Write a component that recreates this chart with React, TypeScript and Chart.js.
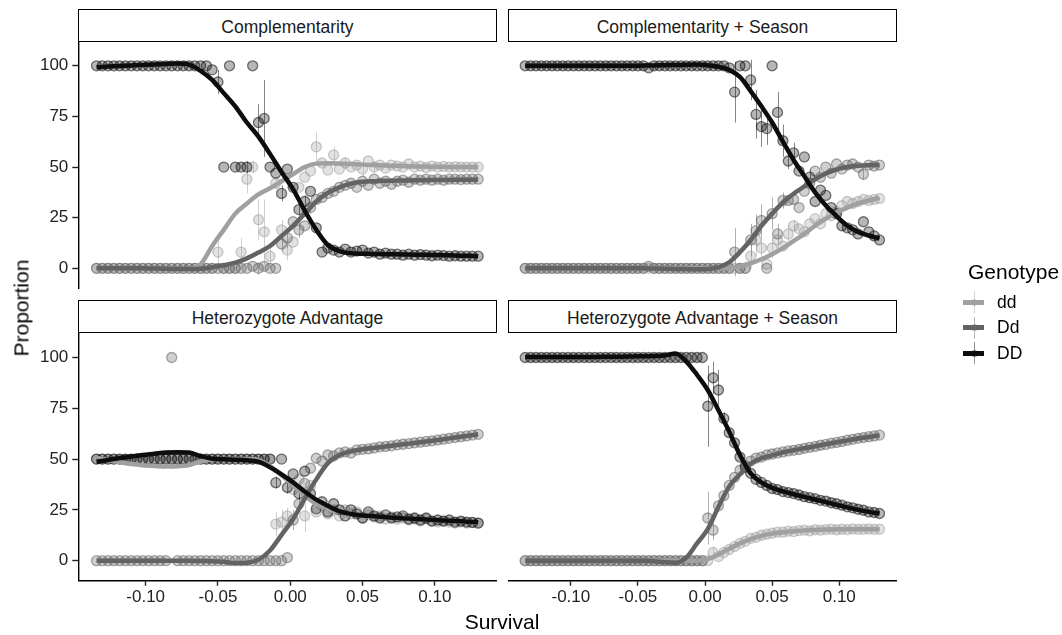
import React, { useEffect, useRef } from "react";
import { Chart, registerables } from "chart.js";

Chart.register(...registerables);

// ---- shared axes -----------------------------------------------------------
const survival = [
  -0.134, -0.13, -0.126, -0.122, -0.118, -0.114, -0.11, -0.106, -0.102, -0.098,
  -0.094, -0.09, -0.086, -0.082, -0.078, -0.074, -0.07, -0.066, -0.062, -0.058,
  -0.054, -0.05, -0.046, -0.042, -0.038, -0.034, -0.03, -0.026, -0.022, -0.018,
  -0.014, -0.01, -0.006, -0.002, 0.002, 0.006, 0.01, 0.014, 0.018, 0.022,
  0.026, 0.03, 0.034, 0.038, 0.042, 0.046, 0.05, 0.054, 0.058, 0.062,
  0.066, 0.07, 0.074, 0.078, 0.082, 0.086, 0.09, 0.094, 0.098, 0.102,
  0.106, 0.11, 0.114, 0.118, 0.122, 0.126, 0.13,
];

const survivalFit = [
  -0.134, -0.126, -0.118, -0.11, -0.102, -0.094, -0.086, -0.078, -0.07, -0.062,
  -0.054, -0.046, -0.038, -0.03, -0.022, -0.014, -0.006, 0.002, 0.01, 0.018,
  0.026, 0.034, 0.042, 0.05, 0.058, 0.066, 0.074, 0.082, 0.09, 0.098,
  0.106, 0.114, 0.122, 0.13,
];

const yTicks = [0, 25, 50, 75, 100];
const xTicks = [-0.1, -0.05, 0, 0.05, 0.1];
const genotypes = ["dd", "Dd", "DD"];
const facetTitles = [
  "Complementarity",
  "Complementarity + Season",
  "Heterozygote Advantage",
  "Heterozygote Advantage + Season",
];

// ---- Complementarity --------------------------------------------------------
const compDD = [
  100, 100, 100, 100, 100, 100, 100, 100, 100, 100,
  100, 100, 100, 100, 100, 100, 100, 100, 100, 100,
  98, 92, 50, 100, 50, 50, 50, 100, 72, 74,
  50, 47, 37, 49, 40, 29, 33, 38, 20, 8,
  10, 9, 8, 9.5, 8, 8.5, 9, 7.5, 8, 7,
  7.5, 7, 7, 6.5, 7, 6.5, 6.8, 6.5, 6.2, 6.5,
  6.3, 6, 6.2, 6, 6, 6, 6,
];
const compDDSe: Record<number, number> = { 21: 6, 26: 3, 28: 9, 29: 19, 32: 4, 35: 3, 36: 3 };
const compDd = [
  0, 0, 0, 0, 0, 0, 0, 0, 0, 0,
  0, 0, 0, 0, 0, 0, 0, 0, 0, 0,
  0, 0, 0, 0, 0, 0, 0, 1, 0, 1,
  0, 0, 12, 15, 23, 19, 21, 30, 34, 35,
  37, 38, 40, 41, 42, 40, 43, 41, 44, 42,
  43, 41.5, 43, 43.5, 42.5, 44, 43.5, 44, 43.5, 44,
  43.5, 44, 44, 43.8, 44, 44, 44,
];
const compDdSe: Record<number, number> = { 28: 3, 32: 4, 33: 5, 35: 4, 37: 3 };
const compdd = [
  0, 0, 0, 0, 0, 0, 0, 0, 0, 0,
  0, 0, 0, 0, 0, 0, 0, 0, 0, 0,
  0, 8, 0, 0, 0, 8, 44, 50, 24, 18,
  6, 42, 19, 9, 13, 40, 45, 48, 60, 52,
  48.5, 56, 49, 52, 50, 51, 49, 53, 50, 51,
  49.5, 51, 50.5, 50, 51.5, 50, 50.5, 49.8, 50.5, 50,
  50.3, 50, 50.2, 50, 50, 50, 50,
];
const compddSe: Record<number, number> = {
  21: 6, 25: 7, 26: 7, 27: 3, 28: 10, 29: 16, 30: 6, 31: 3, 32: 5, 33: 5, 38: 7, 41: 4, 43: 3, 46: 4, 48: 3,
};
const compFitDD = [
  99.3, 99.6, 99.9, 100.2, 100.4, 100.6, 100.9, 101.1, 100.6, 97.5,
  93, 86.5, 80, 72, 65, 56.5, 47.5, 39, 28.5, 19,
  11.5, 8.5, 7.4, 7.2, 7.1, 7.0, 6.9, 6.8, 6.7, 6.6,
  6.5, 6.3, 6.2, 6.0,
];
const compFitDd = [
  0, 0, 0, 0, 0, -0.1, -0.2, -0.4, -0.4, -0.2,
  0.5, 1.5, 2.8, 4.9, 7.8, 11, 16, 21, 27, 33,
  37.3, 40, 41.8, 42.7, 43, 43.2, 43.3, 43.4, 43.5, 43.6,
  43.6, 43.7, 43.7, 43.8,
];
const compFitdd = [
  0, 0, 0, 0, 0, -0.2, -0.4, -0.5, -0.3, 2,
  11, 19, 27, 32, 36.5, 39.5, 43, 46.5, 50, 51.7,
  51.9, 51.7, 51.5, 51.2, 51, 50.8, 50.6, 50.4, 50.3, 50.2,
  50.1, 50, 50, 50,
];

// ---- Complementarity + Season ----------------------------------------------
const seasonDD = [
  100, 100, 100, 100, 100, 100, 100, 100, 100, 100,
  100, 100, 100, 100, 100, 100, 100, 100, 100, 100,
  100, 100, 100, 99, 100, 100, 100, 100, 100, 100,
  100, 100, 100, 100, 100, 100, 100, 100, 99, 87,
  100, 100, 93, 76, 70, 69, 100, 77, 63, 53,
  57, 48, 55, 45, 33, 38.6, 36, 30, 27, 21,
  20, 19, 17, 23, 18, 16, 14,
];
const seasonDDSe: Record<number, number> = { 39: 15, 42: 10, 43: 12, 44: 10, 45: 8, 47: 10, 48: 8, 49: 4, 50: 5, 53: 4 };
const seasonDd = [
  0, 0, 0, 0, 0, 0, 0, 0, 0, 0,
  0, 0, 0, 0, 0, 0, 0, 0, 0, 0,
  0, 0, 0, 1, 0, 0, 0, 0, 0, 0,
  0, 0, 0, 0, 0, 0, 0, 0, 0, 8,
  0, 0, 14, 18.6, 23.6, 0, 27, 17, 33.5, 33.5,
  34, 30, 38, 42, 48, 45, 50, 47, 51.5, 49,
  51, 51.5, 50, 46.5, 51, 50.5, 51,
];
const seasonDdSe: Record<number, number> = { 39: 12, 42: 8, 43: 8, 44: 8, 46: 8, 47: 5, 48: 4, 63: 3 };
const seasondd = [
  0, 0, 0, 0, 0, 0, 0, 0, 0, 0,
  0, 0, 0, 0, 0, 0, 0, 0, 0, 0,
  0, 0, 0, 0, 0, 0, 0, 0, 0, 0,
  0, 0, 0, 0, 0, 0, 0, 0, 0, 0,
  0, 0, 6, 14, 10, 2, 10, 14, 11, 17,
  21, 19.5, 18, 22, 24.5, 22, 27, 26, 28, 31,
  33, 32, 33, 34, 33.5, 34, 34.5,
];
const seasonddSe: Record<number, number> = { 42: 6, 43: 8, 44: 6, 46: 5, 49: 4, 50: 3 };
const seasonFitDD = [
  100, 100, 100, 100, 100, 100, 100, 100, 100, 100,
  100, 100.1, 100.2, 100.3, 100.4, 100.5, 100.6, 100.3, 99.5, 98,
  94.5, 87.5, 80, 72, 62.5, 53.5, 45.5, 37.5, 31, 25.8,
  21, 18, 16.2, 14.7,
];
const seasonFitDd = [
  0, 0, 0, 0, 0, 0, 0, 0, 0, 0,
  0, 0, -0.1, -0.2, -0.3, -0.4, -0.5, -0.3, 0.5, 3,
  8, 14, 21, 27, 32.5, 36.8, 40.5, 44, 46.8, 48.8,
  50, 50.6, 50.9, 51,
];
const seasonFitdd = [
  0, 0, 0, 0, 0, 0, 0, 0, 0, 0,
  0, 0, 0, 0, 0, 0, 0, 0, 0, 0.3,
  1, 2.5, 4.5, 7, 10, 13.5, 17, 21, 24.5, 27.5,
  30, 32, 33.5, 34.8,
];

// ---- Heterozygote Advantage -------------------------------------------------
const hetDD = [
  50, 50, 50, 50, 50, 50, 50, 50, 50, 50,
  50, 50, 50, 50, 50, 50, 50, 50, 50, 50,
  50, 50, 50, 50, 50, 50, 50, 50, 50, 50,
  50, 38.4, 50, 36, 42.7, 33, 44, 33, 25.5, 29,
  24, 28, 25, 22, 25, 23, 21, 24, 22, 21,
  22.5, 21, 21.5, 22, 20.5, 21, 20, 21, 19.5, 20,
  19.5, 20, 19, 19.5, 19, 18.8, 18.5,
];
const hetDDSe: Record<number, number> = { 31: 3, 33: 3, 35: 3 };
const hetDd = [
  0, 0, 0, 0, 0, 0, 0, 0, 0, 0,
  0, 0, 0, 100, 0, 0, 0, 0, 0, 0,
  0, 0, 0, 0, 0, 0, 0, 0, 0, 0,
  0, 0, 0, 1.5, 20, 28, 38, 45.5, 50.4, 49,
  52, 51.5, 53, 53.5, 53, 54.5, 54.8, 55, 55.5, 56,
  56.2, 56.5, 57, 57.3, 57.6, 58, 58.3, 58.7, 59, 59.4,
  59.8, 60.2, 60.6, 61, 61.4, 61.8, 62.2,
];
const hetDdSe: Record<number, number> = { 34: 5, 35: 4 };
const hetdd = [
  50, 50, 50, 50, 50, 50, 50, 50, 50, 50,
  50, 50, 50, 50, 50, 50, 50, 50, 50, 50,
  50, 50, 50, 50, 50, 50, 50, 50, 50, 50,
  50, 18, 19, 22, 35, 40, 22, 37, 24, 27,
  23, 25, 22, 25, 23, 24, 21, 22.5, 21.5, 22,
  20.5, 21.5, 20.5, 21, 20, 20.5, 19.5, 20.5, 19.5, 19,
  19.5, 19, 18.5, 19, 18.5, 18.8, 18.5,
];
const hetddSe: Record<number, number> = { 31: 6, 32: 6, 33: 4, 36: 8, 41: 3, 43: 2 };
const hetFitDD = [
  48.7, 49.5, 50.5, 51.3, 52, 52.6, 53.2, 53.4, 53.2, 51.5,
  50.2, 49.9, 49.7, 49.4, 48.7, 46, 42.5, 38.5, 34, 30,
  27, 24.3, 23, 22.2, 21.8, 21.4, 21, 20.7, 20.4, 20.1,
  19.8, 19.5, 19.2, 18.9,
];
const hetFitDd = [
  0, 0, 0, 0, 0, 0, 0, 0, -0.1, -0.2,
  -0.3, -0.6, -1.2, -1, 0.5, 5, 12.7, 20.5, 30.5, 40,
  48, 52, 53.8, 54.8, 55.5, 56.2, 56.9, 57.6, 58.3, 59,
  59.8, 60.6, 61.4, 62.2,
];
const hetFitdd = [
  50.5, 49.5, 48.5, 47.6, 47, 46.6, 46.3, 46.4, 47, 48.8,
  49.8, 50, 50, 50, 49.5, 46.5, 42, 37, 32, 28,
  25.5, 24, 23, 22.1, 21.6, 21.2, 20.9, 20.6, 20.3, 20,
  19.7, 19.4, 19.1, 18.8,
];

// ---- Heterozygote Advantage + Season ---------------------------------------
const hetSeasonDD = [
  100, 100, 100, 100, 100, 100, 100, 100, 100, 100,
  100, 100, 100, 100, 100, 100, 100, 100, 100, 100,
  100, 100, 100, 100, 100, 100, 100, 100, 100, 100,
  100, 100, 100, 100, 76, 90, 84, 70, 63, 58,
  51, 46, 43, 40, 38.5, 37, 35.5, 35, 34, 33.5,
  33, 32.3, 31.5, 31, 30.5, 29.7, 29.3, 28.5, 28, 27.3,
  26.5, 26, 25.3, 24.8, 24, 23.7, 23.2,
];
const hetSeasonDDSe: Record<number, number> = { 34: 20, 35: 8, 36: 10, 37: 3 };
const hetSeasonDd = [
  0, 0, 0, 0, 0, 0, 0, 0, 0, 0,
  0, 0, 0, 0, 0, 0, 0, 0, 0, 0,
  0, 0, 0, 0, 0, 0, 0, 0, 0, 0,
  0, 0, 0, 0, 21, 15, 27, 32, 37, 41,
  44.5, 47, 49, 50.5, 51, 52, 52.5, 53, 53.5, 54,
  54.3, 54.7, 55.3, 55.8, 56.2, 56.8, 57.2, 57.8, 58.2, 58.7,
  59.3, 59.7, 60.2, 60.6, 61, 61.4, 61.8,
];
const hetSeasonDdSe: Record<number, number> = { 34: 13, 35: 5, 36: 3 };
const hetSeasondd = [
  0, 0, 0, 0, 0, 0, 0, 0, 0, 0,
  0, 0, 0, 0, 0, 0, 0, 0, 0, 0,
  0, 0, 0, 0, 0, 0, 0, 0, 0, 0,
  0, 0, 0, 0, 0, 4, 2, 4, 5.5, 7,
  8.5, 9.5, 11, 11.5, 12.5, 13, 13.5, 14, 14, 14.5,
  14.3, 14.8, 15, 14.7, 15.2, 15, 15.3, 15.5, 15.2, 15.5,
  15.3, 15.6, 15.4, 15.5, 15.6, 15.4, 15.5,
];
const hetSeasonddSe: Record<number, number> = { 35: 3 };
const hetSeasonFitDD = [
  100.2, 100.2, 100.2, 100.2, 100.2, 100.2, 100.2, 100.3, 100.3, 100.4,
  100.5, 100.6, 100.7, 101, 101.9, 98, 91.5, 84, 74, 63.5,
  52, 43, 38.5, 35.8, 34.1, 32.7, 31.4, 30.1, 28.8, 27.5,
  26.2, 25, 24, 23.2,
];
const hetSeasonFitDd = [
  0, 0, 0, 0, 0, 0, 0, 0, 0, 0,
  0, 0, -0.3, -0.8, -1, 1.5, 8.5, 15.5, 26.5, 36.5,
  42.5, 47.8, 50.4, 51.8, 53.3, 54.4, 55.3, 56.3, 57.3, 58.3,
  59.2, 60.1, 60.9, 61.7,
];
const hetSeasonFitdd = [
  0, 0, 0, 0, 0, 0, 0, 0, 0, 0,
  0, 0, 0, 0, 0, 0, 0, 0.8, 3, 5.8,
  8.5, 10.6, 12.2, 13.3, 14, 14.5, 14.9, 15.1, 15.3, 15.4,
  15.5, 15.5, 15.5, 15.5,
];

// ---- styling ---------------------------------------------------------------
const FONT = '"Liberation Sans", Arial, Helvetica, sans-serif';
const W = 1062;
const H = 635;
const X_MIN = -0.1466;
const X_MAX = 0.1428;
const Y_MIN = -9.87;
const Y_MAX = 111.9;
const Y_AXIS_W = 60;
const X_AXIS_H = 40;

const genotypeRgb: Record<string, number[]> = {
  dd: [160, 160, 160],
  Dd: [99, 99, 99],
  DD: [13, 13, 13],
};
const rgba = (g: string, a: number) => {
  const [r, gg, b] = genotypeRgb[g];
  return `rgba(${r},${gg},${b},${a})`;
};

type Series = { points: number[]; se: Record<number, number>; fit: number[] };
type Area = { left: number; top: number; right: number; bottom: number };
type PanelDef = {
  title: string;
  area: Area;
  strip: { top: number; bottom: number };
  showX: boolean;
  showY: boolean;
  series: Record<string, Series>;
};

const panels: PanelDef[] = [
  {
    title: facetTitles[0],
    area: { left: 78.3, top: 41.7, right: 496.7, bottom: 288.3 },
    strip: { top: 8.7, bottom: 41.7 },
    showX: false,
    showY: true,
    series: {
      dd: { points: compdd, se: compddSe, fit: compFitdd },
      Dd: { points: compDd, se: compDdSe, fit: compFitDd },
      DD: { points: compDD, se: compDDSe, fit: compFitDD },
    },
  },
  {
    title: facetTitles[1],
    area: { left: 508.3, top: 41.7, right: 896.7, bottom: 288.3 },
    strip: { top: 8.7, bottom: 41.7 },
    showX: false,
    showY: false,
    series: {
      dd: { points: seasondd, se: seasonddSe, fit: seasonFitdd },
      Dd: { points: seasonDd, se: seasonDdSe, fit: seasonFitDd },
      DD: { points: seasonDD, se: seasonDDSe, fit: seasonFitDD },
    },
  },
  {
    title: facetTitles[2],
    area: { left: 78.3, top: 333.3, right: 496.7, bottom: 580.7 },
    strip: { top: 300.3, bottom: 333.3 },
    showX: true,
    showY: true,
    series: {
      dd: { points: hetdd, se: hetddSe, fit: hetFitdd },
      Dd: { points: hetDd, se: hetDdSe, fit: hetFitDd },
      DD: { points: hetDD, se: hetDDSe, fit: hetFitDD },
    },
  },
  {
    title: facetTitles[3],
    area: { left: 508.3, top: 333.3, right: 896.7, bottom: 580.7 },
    strip: { top: 300.3, bottom: 333.3 },
    showX: true,
    showY: false,
    series: {
      dd: { points: hetSeasondd, se: hetSeasonddSe, fit: hetSeasonFitdd },
      Dd: { points: hetSeasonDd, se: hetSeasonDdSe, fit: hetSeasonFitDd },
      DD: { points: hetSeasonDD, se: hetSeasonDDSe, fit: hetSeasonFitDD },
    },
  },
];

// vertical standard-error bars for the replicate means
const errorBars = {
  id: "errorBars",
  beforeDatasetsDraw(chart: any) {
    const { ctx, chartArea, scales } = chart;
    const xs = scales.x;
    const ys = scales.y;
    ctx.save();
    ctx.beginPath();
    ctx.rect(chartArea.left, chartArea.top, chartArea.right - chartArea.left, chartArea.bottom - chartArea.top);
    ctx.clip();
    chart.data.datasets.forEach((ds: any) => {
      if (!ds.se) return;
      ctx.strokeStyle = ds.seColor;
      ctx.lineWidth = 1;
      ds.data.forEach((p: any, i: number) => {
        const s = ds.se[i];
        if (!s) return;
        const px = Math.round(xs.getPixelForValue(p.x)) + 0.5;
        ctx.beginPath();
        ctx.moveTo(px, ys.getPixelForValue(p.y - s));
        ctx.lineTo(px, ys.getPixelForValue(p.y + s));
        ctx.stroke();
      });
    });
    ctx.restore();
  },
};

function buildDatasets(panel: PanelDef) {
  const datasets: any[] = [];
  genotypes.forEach((g, gi) => {
    const s = panel.series[g];
    datasets.push({
      label: `${g} loess`,
      data: survivalFit.map((x, i) => ({ x, y: s.fit[i] })),
      borderColor: rgba(g, 1),
      borderWidth: 4.5,
      pointRadius: 0,
      pointHoverRadius: 0,
      cubicInterpolationMode: "monotone",
      fill: false,
      order: 2 - gi,
    });
    datasets.push({
      label: g,
      data: survival.map((x, i) => ({ x, y: s.points[i] })),
      showLine: false,
      pointRadius: 5,
      pointHoverRadius: 5,
      pointBackgroundColor: rgba(g, 0.3),
      pointBorderColor: rgba(g, 0.55),
      pointBorderWidth: 1.3,
      borderColor: rgba(g, 0.55),
      order: 5 - gi,
      se: survival.map((_, i) => s.se[i] ?? 0),
      seColor: rgba(g, 0.5),
    });
  });
  return datasets;
}

function FacetPanel({ panel }: { panel: PanelDef }) {
  const ref = useRef<HTMLCanvasElement | null>(null);

  useEffect(() => {
    if (!ref.current) return;
    const a = panel.area;
    const tickFont = { family: FONT, size: 17 };
    const chart = new Chart(ref.current, {
      type: "line",
      data: { datasets: buildDatasets(panel) },
      options: {
        animation: false,
        responsive: false,
        devicePixelRatio: 1,
        events: [],
        layout: {
          padding: {
            left: a.left - (panel.showY ? Y_AXIS_W : 0),
            right: W - a.right,
            top: a.top,
            bottom: H - a.bottom - (panel.showX ? X_AXIS_H : 0),
          },
        },
        plugins: {
          legend: { display: false },
          tooltip: { enabled: false },
        },
        scales: {
          x: {
            type: "linear",
            min: X_MIN,
            max: X_MAX,
            display: panel.showX,
            afterBuildTicks: (s: any) => {
              s.ticks = xTicks.map((v) => ({ value: v }));
            },
            afterFit: (s: any) => {
              s.height = panel.showX ? X_AXIS_H : 0;
            },
            grid: {
              drawOnChartArea: false,
              drawTicks: true,
              tickLength: 5,
              tickColor: "#222",
              tickWidth: 1.4,
            },
            border: { display: true, color: "#000", width: 1.4 },
            ticks: {
              autoSkip: false,
              maxRotation: 0,
              padding: 1,
              color: "#222",
              font: tickFont,
              callback: (v: any) => Number(v).toFixed(2),
            },
          },
          y: {
            type: "linear",
            min: Y_MIN,
            max: Y_MAX,
            display: panel.showY,
            afterBuildTicks: (s: any) => {
              s.ticks = yTicks.map((v) => ({ value: v }));
            },
            afterFit: (s: any) => {
              s.width = panel.showY ? Y_AXIS_W : 0;
            },
            grid: {
              drawOnChartArea: false,
              drawTicks: true,
              tickLength: 6,
              tickColor: "#222",
              tickWidth: 1.4,
            },
            border: { display: true, color: "#000", width: 1.4 },
            ticks: {
              autoSkip: false,
              padding: 4,
              color: "#222",
              font: tickFont,
              callback: (v: any) => String(v),
            },
          },
        },
      } as any,
      plugins: [errorBars],
    });
    return () => chart.destroy();
  }, [panel]);

  return (
    <canvas
      ref={ref}
      width={W}
      height={H}
      style={{ position: "absolute", left: 0, top: 0, width: W, height: H, pointerEvents: "none" }}
    />
  );
}

function Strip({ panel }: { panel: PanelDef }) {
  const { left, right } = panel.area;
  const { top, bottom } = panel.strip;
  const capCenter = (top + bottom) / 2 + 2;
  return (
    <>
      <div
        style={{
          position: "absolute",
          left,
          top,
          width: right - left,
          height: bottom - top,
          border: "1.7px solid #000",
          boxSizing: "border-box",
          background: "#fff",
        }}
      />
      <div
        style={{
          position: "absolute",
          left,
          width: right - left,
          top: capCenter - 0.49 * 17.5,
          textAlign: "center",
          fontFamily: FONT,
          fontSize: 17.5,
          lineHeight: 1,
          color: "#1a1a1a",
          whiteSpace: "nowrap",
        }}
      >
        {panel.title}
      </div>
    </>
  );
}

const legendRows = [302.3, 327.7, 353.3];

export default function App() {
  return (
    <div style={{ position: "absolute", left: 0, top: 0, width: W, height: H, background: "#fff", overflow: "hidden" }}>
      {panels.map((p) => (
        <Strip key={`s-${p.title}`} panel={p} />
      ))}
      {panels.map((p) => (
        <FacetPanel key={p.title} panel={p} />
      ))}
      <div
        style={{
          position: "absolute",
          left: 402,
          width: 200,
          top: 621 - 0.49 * 21,
          textAlign: "center",
          fontFamily: FONT,
          fontSize: 21,
          lineHeight: 1,
          color: "#000",
        }}
      >
        Survival
      </div>
      <div
        style={{
          position: "absolute",
          left: 21,
          top: 308.3,
          transform: "translate(-50%, -50%) rotate(-90deg)",
          fontFamily: FONT,
          fontSize: 21,
          lineHeight: 1,
          color: "#000",
          whiteSpace: "nowrap",
        }}
      >
        Proportion
      </div>
      <div
        style={{
          position: "absolute",
          left: 968,
          top: 271.5 - 0.49 * 21,
          fontFamily: FONT,
          fontSize: 21,
          lineHeight: 1,
          color: "#000",
          whiteSpace: "nowrap",
        }}
      >
        Genotype
      </div>
      {genotypes.map((g, i) => {
        const c = legendRows[i];
        return (
          <React.Fragment key={g}>
            <div style={{ position: "absolute", left: 973.5, top: c - 11, width: 1, height: 22, background: rgba(g, 0.45) }} />
            <div style={{ position: "absolute", left: 963.3, top: c - 2.5, width: 21, height: 5, background: rgba(g, 1) }} />
            <div
              style={{
                position: "absolute",
                left: 970.5,
                top: c - 3.5,
                width: 7,
                height: 7,
                borderRadius: "50%",
                background: rgba(g, 0.42),
              }}
            />
            <div
              style={{
                position: "absolute",
                left: 997,
                top: c - 0.49 * 17.5,
                fontFamily: FONT,
                fontSize: 17.5,
                lineHeight: 1,
                color: "#000",
                whiteSpace: "nowrap",
              }}
            >
              {g}
            </div>
          </React.Fragment>
        );
      })}
    </div>
  );
}
